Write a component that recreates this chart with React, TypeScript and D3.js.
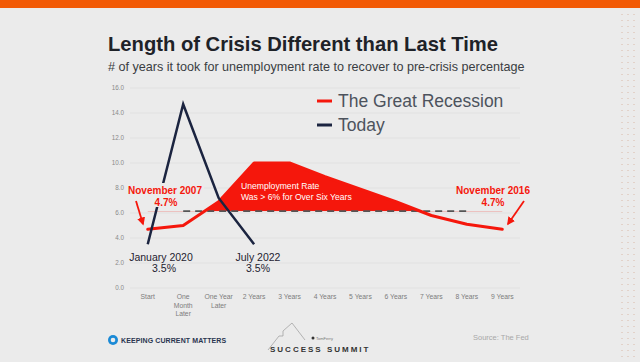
import React from "react";
import * as d3 from "d3";

const categories = ["Start", "One Month Later", "One Year Later", "2 Years", "3 Years", "4 Years", "5 Years", "6 Years", "7 Years", "8 Years", "9 Years"];
const xTickLines = [["Start"], ["One", "Month", "Later"], ["One Year", "Later"], ["2 Years"], ["3 Years"], ["4 Years"], ["5 Years"], ["6 Years"], ["7 Years"], ["8 Years"], ["9 Years"]];
const greatRecession = [4.7, 5.0, 6.9, 10.0, 10.0, 8.9, 7.9, 6.9, 5.8, 5.1, 4.7];
const todayCats = ["Start", "One Month Later", "One Year Later", "2 Years"];
const today = [3.5, 14.7, 7.2, 3.5];
const yTicks = [0, 2, 4, 6, 8, 10, 12, 14, 16];
const threshold = 6.15;

const W = 640, H = 362;
const RED = "#f5170c";
const NAVY = "#1b2440";
const BG = "#ebebeb";
const FONT = "'Liberation Sans', Arial, sans-serif";

export default function App() {
  const x = d3.scaleBand<string>().domain(categories).range([130, 520]).padding(0);
  const cx = (c: string) => (x(c) as number) + x.bandwidth() / 2;
  const y = d3.scaleLinear().domain([0, 16]).range([288, 88]);
  const fmt = d3.format(".1f");

  const redPts: [number, number][] = categories.map((c, i) => [cx(c), y(greatRecession[i])]);
  const navyPts: [number, number][] = todayCats.map((c, i) => [cx(c), y(today[i])]);
  const redLine = d3.line()(redPts) as string;
  const navyLine = d3.line()(navyPts) as string;
  const redArea = d3.area<[number, number]>()
    .x(d => d[0]).y0(y(threshold)).y1(d => d[1])(redPts) as string;
  const ty = y(threshold);

  return (
    <svg width={W} height={H} style={{ position: "absolute", left: 0, top: 0, display: "block" }} fontFamily={FONT}>
      <defs>
        <clipPath id="above">
          <rect x={0} y={0} width={W} height={ty} />
        </clipPath>
        <marker id="arr" viewBox="0 0 10 10" refX="8" refY="5" markerWidth="4.5" markerHeight="4.5" orient="auto">
          <path d="M0,0 L10,5 L0,10 z" fill={RED} />
        </marker>
      </defs>
      <rect x={0} y={0} width={W} height={H} fill={BG} />
      <rect x={0} y={0} width={W} height={8} fill="#f25a05" />
      {[622, 628, 634].map(xx => (
        <line key={xx} x1={xx} x2={xx} y1={14} y2={358} stroke="#d9b9a8" strokeWidth={1} strokeDasharray="1 5" />
      ))}

      {/* title */}
      <text x={108} y={51} fontSize={20.2} fontWeight="bold" fill="#1e2228">Length of Crisis Different than Last Time</text>
      <text x={108} y={71} fontSize={12.6} fill="#3a3d42">
        # of years it took for unemployment rate to recover to pre-crisis percentage
      </text>

      {/* grid + y axis */}
      {yTicks.map(t => (
        <g key={t}>
          <line x1={130} x2={520} y1={y(t)} y2={y(t)} stroke="#dedede" strokeWidth={0.8} />
          <text x={124} y={y(t) + 2.2} fontSize={6.3} textAnchor="end" fill="#8a8a8a">{fmt(t)}</text>
        </g>
      ))}

      {/* x axis labels */}
      {categories.map((c, i) => (
        <text key={c} x={cx(c)} y={299} fontSize={6.8} textAnchor="middle" fill="#7d7d7d">
          {xTickLines[i].map((l, j) => (
            <tspan key={j} x={cx(c)} dy={j === 0 ? 0 : 8.5}>{l}</tspan>
          ))}
        </text>
      ))}

      {/* red area */}
      <path d={redArea} fill={RED} clipPath="url(#above)" />
      <line x1={cx("One Month Later")} x2={cx("8 Years")} y1={ty} y2={ty} stroke="#555555" strokeWidth={1.8} strokeDasharray="7 5" />
      <path d={redLine} fill="none" stroke={RED} strokeWidth={3} strokeLinecap="round" strokeLinejoin="round" />

      <text x={241} y={189} fontSize={8.6} fill="#ffffff">Unemployment Rate</text>
      <text x={241} y={199.5} fontSize={8.6} fill="#ffffff">Was &gt; 6% for Over Six Years</text>

      {/* navy line */}
      <path d={navyLine} fill="none" stroke={NAVY} strokeWidth={2.5} />

      {/* annotations */}
      <rect x={127} y={183} width={77} height={24} fill={BG} />
      <text x={165} y={194} fontSize={10} fontWeight="bold" fill={RED} textAnchor="middle">November 2007</text>
      <text x={166} y={206} fontSize={10} fontWeight="bold" fill={RED} textAnchor="middle">4.7%</text>
      <line x1={136} y1={201} x2={143} y2={224} stroke={RED} strokeWidth={1.8} markerEnd="url(#arr)" />

      <text x={161} y={261} fontSize={10.5} fill="#1e2230" textAnchor="middle">January 2020</text>
      <text x={164} y={272} fontSize={10.5} fill="#1e2230" textAnchor="middle">3.5%</text>
      <text x={258} y={261} fontSize={10.5} fill="#1e2230" textAnchor="middle">July 2022</text>
      <text x={258} y={272} fontSize={10.5} fill="#1e2230" textAnchor="middle">3.5%</text>

      <text x={493} y={194} fontSize={10} fontWeight="bold" fill={RED} textAnchor="middle">November 2016</text>
      <text x={493} y={206} fontSize={10} fontWeight="bold" fill={RED} textAnchor="middle">4.7%</text>
      <line x1={524} y1={201} x2={508} y2={224} stroke={RED} strokeWidth={1.8} markerEnd="url(#arr)" />

      {/* legend */}
      <line x1={317} x2={332} y1={101} y2={101} stroke={RED} strokeWidth={3} />
      <text x={338} y={107} fontSize={17.5} fill="#4d535d">The Great Recession</text>
      <line x1={317} x2={332} y1={125} y2={125} stroke={NAVY} strokeWidth={3} />
      <text x={338} y={131} fontSize={17.5} fill="#4d535d">Today</text>

      {/* footer */}
      <circle cx={113} cy={340} r={5} fill="#1b8ad6" />
      <circle cx={113} cy={340} r={2.3} fill={BG} />
      <text x={121} y={343} fontSize={7} fontWeight="bold" fill="#2a3550" letterSpacing={0.1}>KEEPING CURRENT MATTERS</text>
      <polyline points="268,350 279,336 283,336 283,331 292,323 305,340" fill="none" stroke="#9a9a9a" strokeWidth={0.7} />
      <circle cx={313} cy={338} r={1.5} fill="#333" />
      <text x={316} y={340} fontSize={4} fill="#777">TomFerry</text>
      <text x={270} y={352} fontSize={8} fontWeight="bold" fill="#333" letterSpacing={2}>SUCCESS SUMMIT</text>
      <text x={473} y={340} fontSize={7.5} fill="#a8a8a8">Source: The Fed</text>
    </svg>
  );
}
